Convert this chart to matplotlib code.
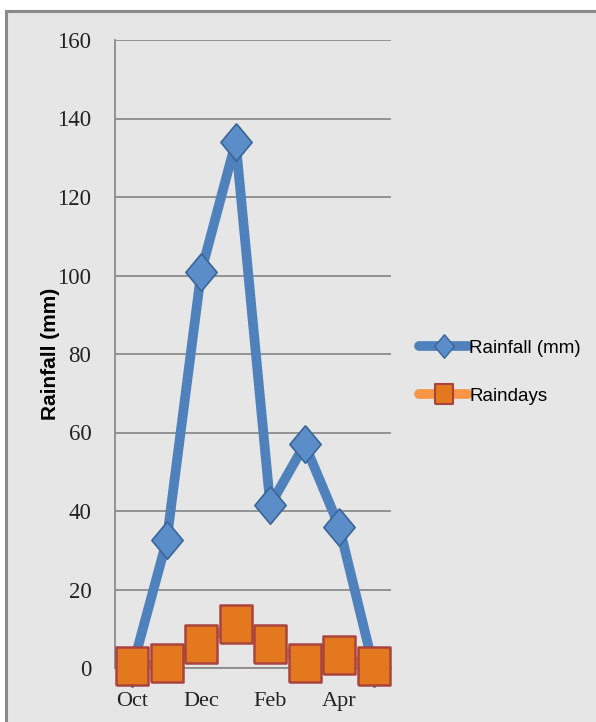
import numpy as np
import matplotlib.pyplot as plt
from matplotlib.lines import Line2D
from matplotlib.patches import Rectangle

# monthly rainfall and number of rain days
months = ['Oct', 'Nov', 'Dec', 'Jan', 'Feb', 'Mar', 'Apr', 'May']
rainfall = [0, 32.5, 101, 134, 41.5, 57, 36, 0]
raindays = [0.4, 1.3, 6.2, 11.3, 6.2, 1.3, 3.2, 0.4]
yticks = [0, 20, 40, 60, 80, 100, 120, 140, 160]

blue = '#4f81bd'
blue_edge = '#3a6596'
orange = '#f79646'
sq_face = '#e3781f'
sq_edge = '#a9433e'
bg = '#e6e6e6'

# tall diamond and tall square markers
diamond = [(0, 1.2), (1, 0), (0, -1.2), (-1, 0), (0, 1.2)]
square = [(-0.82, -1), (0.82, -1), (0.82, 1), (-0.82, 1), (-0.82, -1)]

fig = plt.figure(figsize=(5.96, 7.22), dpi=100)
fig.patch.set_facecolor('white')
frame = Rectangle((6 / 596, -0.05), 1.1, 1 - 11 / 722 + 0.05,
                  transform=fig.transFigure, facecolor=bg,
                  edgecolor='#8a8a8a', linewidth=2.2, zorder=-5)
fig.patches.append(frame)

ax = fig.add_axes([115 / 596, 1 - 668 / 722, 276 / 596, 628 / 722])
ax.patch.set_alpha(0)

x = np.arange(len(months))
ax.plot(x, rainfall, color=blue, lw=7, solid_joinstyle='round', zorder=3,
        clip_on=False)
ax.plot(x, rainfall, ls='none', marker=diamond, ms=27, mfc='#5b8dc9',
        mec=blue_edge, mew=1.2, zorder=4, clip_on=False)
ax.plot(x, raindays, color=orange, lw=6, zorder=5, clip_on=False)
ax.plot(x, raindays, ls='none', marker=square, ms=28, mfc=sq_face,
        mec=sq_edge, mew=1.8, zorder=6, clip_on=False)

ax.set_xlim(-0.5, len(months) - 0.5)
ax.set_ylim(0, 160)
ax.set_yticks(yticks)
ax.set_yticklabels([str(v) for v in yticks], family='Liberation Serif',
                   fontsize=16.5, color='#222222')
ax.set_xticks(x[::2])
ax.set_xticklabels(months[::2], family='Liberation Serif', fontsize=16,
                   color='#222222')
ax.tick_params(axis='y', length=0, pad=17)
ax.tick_params(axis='x', length=0, pad=17)
ax.grid(axis='y', color='#8c8c8c', lw=1.3)
ax.set_axisbelow(True)
for s in ['top', 'right']:
    ax.spines[s].set_visible(False)
ax.spines['bottom'].set_color('#8c8c8c')
ax.spines['left'].set_color('#8c8c8c')
ax.spines['bottom'].set_linewidth(1.3)
ax.spines['left'].set_linewidth(1.3)

ax.set_ylabel('Rainfall (mm)', family='Liberation Sans', fontweight='bold',
              fontsize=15, labelpad=-2)

handles = [
    Line2D([], [], color=blue, lw=7, solid_capstyle='round', marker=diamond,
           ms=17, mfc='#5b8dc9', mec=blue_edge),
    Line2D([], [], color=orange, lw=7, solid_capstyle='round', marker=square,
           ms=15, mfc=sq_face, mec=sq_edge, mew=1.5),
]
fig.legend(handles, ['Rainfall (mm)', 'Raindays'], loc='center left',
           bbox_to_anchor=(410 / 596, 1 - 372 / 722), frameon=False,
           prop={'family': 'Liberation Sans', 'size': 13.5},
           handlelength=2.6, handletextpad=0.05, labelspacing=1.65,
           borderpad=0)

fig.savefig('out.png', dpi=100)
